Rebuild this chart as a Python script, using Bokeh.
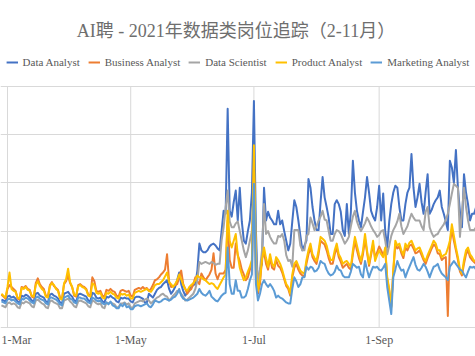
from datetime import datetime, timedelta
from bokeh.plotting import figure
from bokeh.models import Range1d, FixedTicker, Legend, LegendItem, Label
from bokeh.core.properties import value
from bokeh.embed import file_html
from bokeh.resources import INLINE

# ---- data (daily postings, first day 2021-02-26) ----
start_date = datetime(2021, 2, 26)
series_names = ["Data Analyst", "Business Analyst", "Data Scientist",
                "Product Analyst", "Marketing Analyst"]
series_colors = ["#4472C4", "#ED7D31", "#A5A5A5", "#FFC000", "#5B9BD5"]
tick_dates = [datetime(2021, 3, 1), datetime(2021, 5, 1), datetime(2021, 7, 1),
              datetime(2021, 9, 1)]
y_ticks = [0, 50, 100, 150, 200, 250]
title_text = "AI聘 - 2021年数据类岗位追踪（2-11月）"

data_analyst = [
    29, 28, 27,
    32, 33, 31, 32, 30, 27, 26,
    33, 32, 34, 33, 31, 28, 27,
    35, 36, 33, 32, 31, 27, 26,
    34, 35, 33, 32, 30, 26, 25,
    35, 36, 37, 34, 32, 28, 27,
    34, 35, 34, 33, 32, 28, 27,
    36, 35, 31, 30, 31, 27, 26,
    32, 31, 33, 31, 30, 27, 26,
    31, 30, 31, 30, 30, 27, 26,
    31, 32, 32, 31, 30, 26, 26,
    35, 33, 31, 35, 39, 41, 42,
    45, 47, 49, 40, 35, 38, 42,
    49, 57, 45, 38, 33, 36, 40,
    42, 44, 45, 59, 87, 80, 78,
    78, 80, 84, 86, 87, 85, 82,
    80, 100, 121, 118, 227, 121, 115,
    130, 142, 111, 145, 110, 90, 87,
    100, 111, 140, 235, 100, 35, 60,
    66, 145, 111, 120, 114, 111, 107,
    107, 121, 107, 111, 100, 90, 80,
    87, 110, 132, 125, 111, 95, 80,
    85, 90, 154, 145, 125, 111, 101,
    101, 130, 156, 135, 125, 114, 97,
    97, 128, 132, 128, 120, 101, 95,
    128, 97, 120, 173, 140, 121, 111,
    104, 120, 135, 156, 140, 121, 115,
    111, 125, 147, 111, 139, 100, 83,
    110, 128, 140, 147, 145, 125, 111,
    111, 128, 140, 145, 180, 145, 125,
    135, 149, 130, 118, 140, 159, 118,
    122, 128, 132, 135, 142, 125, 118,
    110, 101, 173, 166, 150, 184, 145,
    120, 104, 159, 140, 128, 111, 118,
    118, 125,
]

business_analyst = [
    34, 32, 30,
    40, 44, 42, 40, 38, 30, 29,
    42, 41, 43, 40, 39, 32, 31,
    46, 51, 45, 42, 40, 33, 32,
    44, 47, 43, 41, 39, 31, 30,
    45, 48, 54, 46, 42, 33, 32,
    44, 45, 43, 42, 40, 34, 33,
    52, 48, 38, 37, 38, 33, 32,
    39, 38, 40, 38, 37, 33, 32,
    38, 39, 38, 37, 38, 33, 32,
    39, 40, 41, 40, 42, 40, 41,
    38, 40, 44, 49, 50, 52, 55,
    57, 60, 76, 48, 42, 43, 44,
    45, 52, 59, 45, 40, 35, 38,
    40, 45, 52, 48, 45, 56, 52,
    49, 52, 55, 60, 77, 56, 50,
    56, 56, 56, 60, 111, 70, 62,
    62, 87, 75, 69, 60, 55, 49,
    52, 60, 66, 170, 55, 36, 45,
    72, 78, 66, 60, 72, 62, 60,
    70, 64, 62, 57, 50, 43, 40,
    33, 52, 62, 66, 60, 56, 54,
    53, 66, 76, 83, 73, 69, 66,
    76, 90, 88, 86, 80, 72, 66,
    66, 76, 83, 73, 68, 62, 64,
    66, 62, 60, 76, 90, 80, 72,
    66, 76, 92, 78, 64, 75, 86,
    72, 78, 84, 80, 75, 80, 50,
    38, 22, 58, 86, 82, 84, 77,
    72, 83, 80, 85, 86, 82, 77,
    78, 80, 75, 70, 66, 72, 77,
    82, 86, 84, 77, 76, 70, 72,
    73, 12, 86, 102, 90, 80, 70,
    58, 54, 66, 76, 80, 73, 70,
    68, 66,
]

data_scientist = [
    23, 22, 21,
    25, 26, 24, 25, 24, 21, 20,
    26, 25, 27, 26, 25, 22, 21,
    28, 29, 27, 25, 24, 21, 20,
    27, 28, 26, 25, 24, 20, 20,
    28, 29, 30, 27, 25, 22, 21,
    27, 28, 27, 26, 25, 22, 21,
    28, 27, 25, 24, 25, 21, 20,
    26, 25, 26, 25, 24, 21, 21,
    25, 25, 26, 24, 25, 21, 20,
    25, 26, 27, 28, 27, 29, 30,
    28, 25, 27, 29, 31, 32, 34,
    35, 33, 32, 28, 30, 33, 35,
    38, 37, 35, 32, 28, 29, 31,
    33, 35, 40, 49, 68, 66, 67,
    68, 67, 66, 68, 67, 65, 66,
    66, 90, 104, 124, 142, 110, 104,
    104, 108, 110, 100, 90, 80, 73,
    80, 90, 100, 149, 80, 42, 60,
    80, 128, 97, 100, 94, 90, 87,
    87, 95, 94, 97, 90, 75, 69,
    70, 63, 101, 101, 101, 85, 80,
    80, 95, 97, 114, 108, 101, 105,
    111, 115, 121, 112, 111, 100, 90,
    90, 97, 101, 100, 97, 92, 87,
    90, 94, 105, 115, 121, 110, 104,
    100, 104, 108, 114, 110, 105, 101,
    98, 94, 96, 100, 101, 90, 76,
    85, 95, 101, 105, 110, 118, 105,
    97, 101, 105, 112, 118, 114, 111,
    111, 111, 105, 101, 120, 125, 104,
    98, 94, 96, 97, 101, 104, 107,
    112, 118, 128, 139, 149, 147, 145,
    94, 120, 145, 125, 111, 101, 101,
    101, 104,
]

product_analyst = [
    35, 33, 31,
    42, 57, 40, 38, 37, 31, 30,
    41, 40, 42, 39, 38, 33, 32,
    44, 48, 43, 40, 38, 32, 31,
    43, 46, 44, 40, 38, 30, 29,
    46, 50, 61, 47, 42, 34, 33,
    43, 44, 42, 41, 39, 33, 32,
    46, 44, 36, 35, 36, 31, 30,
    36, 35, 37, 35, 34, 31, 30,
    35, 34, 35, 33, 34, 30, 30,
    36, 37, 38, 37, 38, 39, 40,
    38, 37, 40, 44, 45, 45, 47,
    49, 53, 57, 47, 45, 42, 45,
    49, 55, 50, 44, 40, 38, 42,
    44, 46, 49, 54, 52, 52, 50,
    49, 47, 45, 46, 45, 42, 40,
    44, 48, 52, 55, 121, 90, 83,
    90, 97, 75, 62, 55, 49, 52,
    58, 63, 70, 189, 60, 38, 50,
    70, 83, 72, 63, 76, 66, 63,
    73, 70, 66, 60, 52, 45, 42,
    35, 55, 66, 69, 64, 59, 57,
    56, 70, 80, 87, 76, 72, 69,
    80, 94, 92, 90, 85, 76, 70,
    70, 80, 87, 76, 72, 66, 68,
    69, 66, 63, 80, 94, 85, 76,
    69, 80, 97, 80, 66, 78, 90,
    69, 75, 80, 76, 73, 83, 52,
    40, 21, 60, 90, 85, 87, 80,
    75, 87, 83, 88, 90, 85, 80,
    82, 83, 78, 72, 69, 75, 80,
    85, 90, 87, 80, 80, 73, 75,
    76, 82, 90, 107, 95, 83, 73,
    60, 56, 70, 80, 83, 76, 73,
    69, 70,
]

marketing_analyst = [
    27, 26, 25,
    29, 30, 28, 29, 27, 25, 24,
    30, 29, 31, 30, 28, 26, 25,
    31, 32, 30, 29, 28, 25, 24,
    31, 31, 30, 29, 27, 24, 23,
    31, 32, 33, 30, 29, 26, 25,
    31, 31, 30, 30, 28, 26, 25,
    31, 30, 28, 27, 28, 25, 24,
    26, 24, 27, 23, 22, 20, 20,
    24, 22, 25, 21, 22, 19, 19,
    22, 23, 23, 22, 23, 24, 25,
    22, 21, 24, 28, 27, 26, 27,
    29, 30, 29, 28, 29, 31, 32,
    35, 40, 33, 30, 29, 28, 29,
    30, 31, 33, 35, 40, 36, 34,
    33, 35, 38, 32, 30, 28, 27,
    30, 33, 35, 36, 83, 45, 35,
    35, 49, 38, 38, 31, 31, 33,
    40, 49, 55, 149, 45, 28, 35,
    45, 49, 45, 42, 45, 42, 38,
    31, 33, 31, 30, 28, 26, 25,
    25, 40, 52, 48, 42, 45, 52,
    52, 63, 60, 63, 62, 58, 59,
    62, 69, 67, 66, 60, 56, 54,
    55, 58, 64, 60, 59, 54, 52,
    52, 52, 58, 66, 64, 62, 63,
    55, 52, 69, 60, 52, 58, 63,
    62, 63, 60, 59, 62, 66, 42,
    28, 14, 52, 60, 69, 63, 59,
    60, 52, 58, 63, 68, 73, 65,
    60, 59, 62, 66, 63, 58, 52,
    58, 63, 64, 66, 60, 56, 54,
    52, 49, 63, 66, 69, 66, 63,
    60, 59, 55, 52, 58, 63, 62,
    63, 60,
]

all_series = [data_analyst, business_analyst, data_scientist,
              product_analyst, marketing_analyst]

SERIF = "'Liberation Serif', 'Noto Sans CJK SC'"
W, H = 475, 356
X0 = datetime(2021, 2, 25, 12, 50)
X1 = datetime(2021, 10, 18, 16, 48)

# the whole figure is the plot frame; title, legend and tick labels sit inside it
p = figure(width=W, height=H, x_range=Range1d(X0, X1),
           y_range=Range1d(-30.1, 339.2),
           x_axis_location=None, y_axis_location=None,
           output_backend="svg", toolbar_location=None,
           min_border_left=0, min_border_right=0, min_border_top=0,
           min_border_bottom=0)
p.title.visible = False
p.outline_line_color = None
p.background_fill_color = "white"
p.xgrid.visible = False
p.ygrid.ticker = FixedTicker(ticks=y_ticks)
p.ygrid.grid_line_color = "#d9d9d9"
p.ygrid.grid_line_width = 1

# vertical grid lines at the date ticks, spanning the value axis only
p.segment(x0=tick_dates, y0=[y_ticks[0]] * len(tick_dates),
          x1=tick_dates, y1=[y_ticks[-1]] * len(tick_dates),
          line_color="#d9d9d9", line_width=1)

renderers = []
for vals, color in zip(all_series, series_colors):
    xs = [start_date + timedelta(days=i) for i in range(len(vals))]
    r = p.line(xs, vals, line_color=color, line_width=2, line_join="round")
    renderers.append(r)

# date tick labels (d-Mon); a label too close to the left edge is left-aligned
labels = [f"{d.day}-{d.strftime('%b')}" for d in tick_dates]
near_edge = X0 + timedelta(days=7)
inside = [(d, l) for d, l in zip(tick_dates, labels) if d > near_edge]
p.text(x=[d for d, _ in inside], y=[-13.5] * len(inside), text=[l for _, l in inside],
       text_font=value(SERIF), text_font_size=value("12px"), text_color="#595959",
       text_align="center", text_baseline="middle")
edge = [l for d, l in zip(tick_dates, labels) if d <= near_edge]
if edge:
    p.text(x=[X0], y=[-13.5], text=edge, x_offset=1,
           text_font=value(SERIF), text_font_size=value("12px"), text_color="#595959",
           text_align="left", text_baseline="middle")

legend = Legend(items=[LegendItem(label=n, renderers=[r]) for n, r in zip(series_names, renderers)],
                orientation="horizontal", location="top_center",
                label_text_font=SERIF, label_text_font_size="11px",
                label_text_color="#595959", glyph_width=12, glyph_height=10,
                label_height=12, label_standoff=5, spacing=8, padding=2, margin=56,
                border_line_color=None, background_fill_alpha=0)
p.add_layout(legend)

title = Label(x=W / 2 - 2, y=308, x_units="screen", y_units="data",
              text=title_text, text_align="center", text_baseline="middle",
              text_font=SERIF, text_font_size="18px", text_color="#6e6e6e")
p.add_layout(title)

open("out.html", "w").write(file_html(p, INLINE))
